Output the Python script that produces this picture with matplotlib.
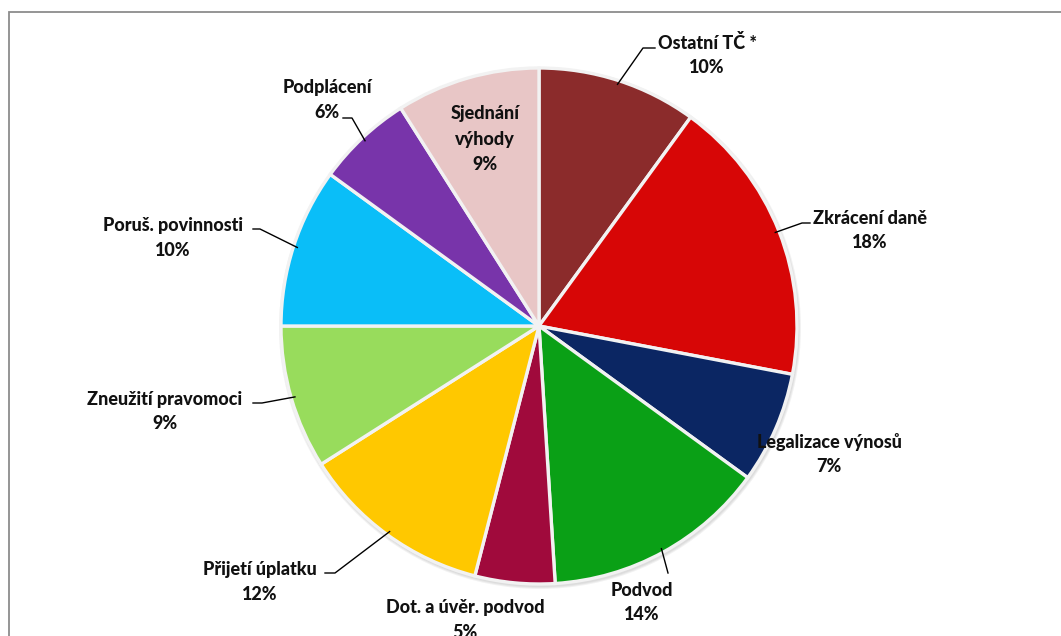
import matplotlib.pyplot as plt
from matplotlib.patches import Rectangle
import numpy as np

# podíl jednotlivých trestných činů (%)
categories = ['Ostatní TČ *', 'Zkrácení daně', 'Legalizace výnosů', 'Podvod',
              'Dot. a úvěr. podvod', 'Přijetí úplatku', 'Zneužití pravomoci',
              'Poruš. povinnosti', 'Podplácení', 'Sjednání výhody']
shares = [10, 18, 7, 14, 5, 12, 9, 10, 6, 9]
colors = ['#8B2B2B', '#D70606', '#0B2663', '#0AA016', '#A00A3C',
          '#FFC800', '#98DC5C', '#0ABEF8', '#7834AA', '#E8C6C6']

W, H = 1061, 636
cx, cy, R = 539, 326, 258

def py(y):
    # pixel row (from top) -> data y
    return H - y

fig = plt.figure(figsize=(W / 100, H / 100), dpi=100)
ax = fig.add_axes([0, 0, 1, 1])

# soft shadow under the pie
for k, a in enumerate([0.05, 0.05, 0.04]):
    ax.add_patch(plt.Circle((cx + 1, py(cy) - 2), R + 3 - k, color='black',
                            alpha=a, lw=0, zorder=0))

wedges, _ = ax.pie(shares, colors=colors, startangle=90, counterclock=False,
                   center=(cx, py(cy)), radius=R,
                   wedgeprops=dict(edgecolor='#f2f2f2', linewidth=2.4))
ax.set_xlim(0, W)
ax.set_ylim(0, H)
ax.set_aspect('equal')
ax.axis('off')

# frame of the chart area
ax.add_patch(Rectangle((9, py(1000)), 1200, 1000 - 12, fill=False,
                       edgecolor='#8c8c8c', linewidth=1.3, zorder=0))

font = dict(family=['Lato', 'DejaVu Sans'], fontweight='black', fontsize=13,
            color='#111111', ha='center', va='center')

# label centre (x, y of first line) and leader elbow (None = no leader)
label_pos = [(707, 43), (870, 218), (829, 442), (642, 590), (465, 608),
             (260, 570), (165, 399), (173, 226), (327, 88), (485, 113)]
elbows = [((643, 48), (655, 48)), ((802, 223), (810, 223)), None,
          ((668, 573), (668, 573)), None, ((335, 573), (325, 573)),
          ((262, 403), (253, 403)), ((260, 229), (253, 229)),
          ((352, 118), (343, 118)), None]

cum = 0
for name, val, (tx, ty), elb in zip(categories, shares, label_pos, elbows):
    mid = np.deg2rad(90 - (cum + val / 2) * 3.6)
    cum += val
    lines = [name, f'{val}%']
    step = 24.5
    if name == 'Sjednání výhody':
        lines = ['Sjednání', 'výhody', f'{val}%']
        step = 26
    for i, s in enumerate(lines):
        ax.text(tx, py(ty + i * step), s, zorder=6, **font)
    if elb is not None:
        ex = cx + R * 0.985 * np.cos(mid)
        ey = cy - R * 0.985 * np.sin(mid)
        (x1, y1), (x2, y2) = elb
        ax.plot([ex, x1, x2], [py(ey), py(y1), py(y2)], color='black', lw=1.0, zorder=5)

fig.savefig('out.png', dpi=100, facecolor='white')
